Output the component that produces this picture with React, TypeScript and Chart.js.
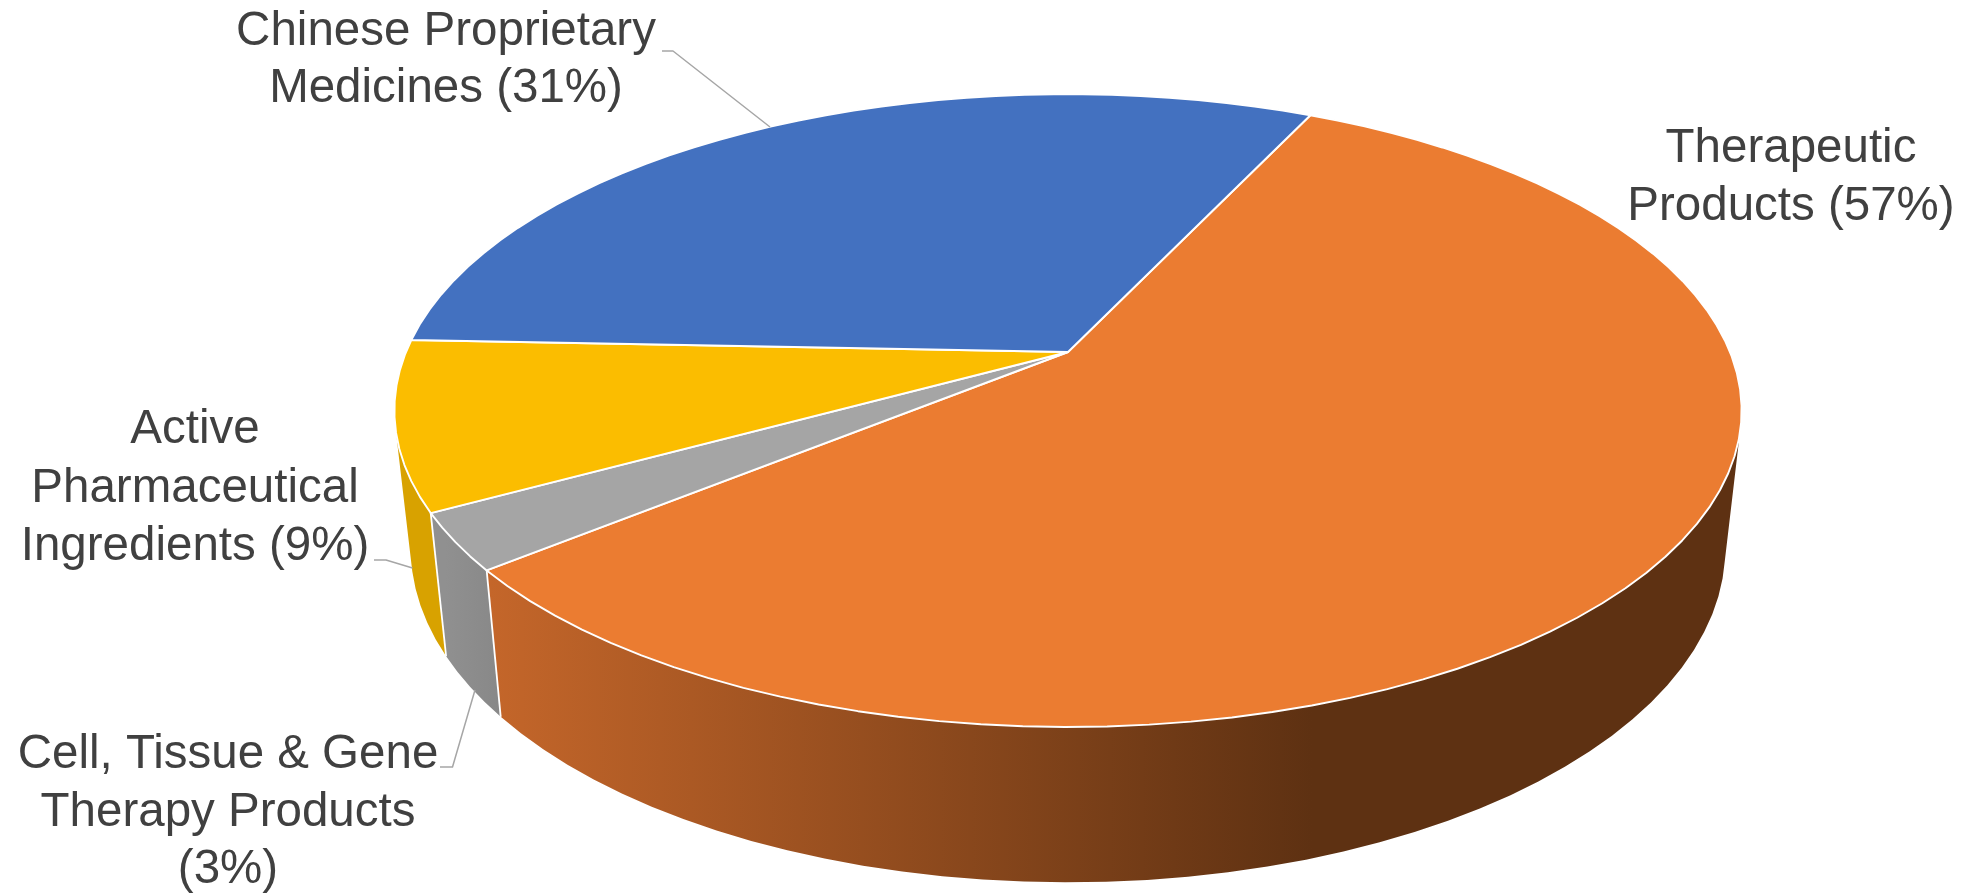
import React, { useEffect, useRef } from "react";
import { Chart, registerables } from "chart.js";

Chart.register(...registerables);

const categories = [
  "Therapeutic Products",
  "Cell, Tissue & Gene Therapy Products",
  "Active Pharmaceutical Ingredients",
  "Chinese Proprietary Medicines",
];
const shares = [57.1, 2.9, 8.6, 31.4];
const topColors = ["#EB7C31", "#A5A5A5", "#FBBD00", "#4371C0"];
const labelLines = [
  ["Therapeutic", "Products (57%)"],
  ["Cell, Tissue & Gene", "Therapy Products", "(3%)"],
  ["Active", "Pharmaceutical", "Ingredients (9%)"],
  ["Chinese Proprietary", "Medicines (31%)"],
];

// Projection of the pie's two discs (top face and bottom rim)
const TOP = { x: 1068, y: 352, a: 662, b: 305.6, p: 0.185 };
const BOTTOM = { x: 1068, y: 486, a: 646, b: 323, p: 0.185 };
const project = (d: typeof TOP, angle: number) => {
  const u = Math.cos(angle);
  const v = Math.sin(angle);
  const w = 1 - d.p * v;
  return [d.x + (d.a * u) / w, d.y + (d.b * v) / w];
};
const STEP = (3 * Math.PI) / 180;
const sweep = (start: number, end: number) => {
  const n = Math.max(1, Math.ceil((end - start) / STEP));
  const out: number[] = [];
  for (let i = 0; i <= n; i++) out.push(start + ((end - start) * i) / n);
  return out;
};

const labelLayout = [
  { x: 1791, y: 162, dy: 58, leader: null },
  { x: 228, y: 768, dy: 57.5, leader: [[440, 767], [452.5, 767], [475, 690]] },
  { x: 195, y: 443, dy: 58.5, leader: [[374, 560], [386, 560], [412.5, 568]] },
  { x: 446, y: 45, dy: 57, leader: [[662, 51], [673, 51], [770, 127]] },
];

const pie3d = {
  id: "pie3d",
  beforeDatasetDraw(chart: any, args: any) {
    const ctx: CanvasRenderingContext2D = chart.ctx;
    const arcs = args.meta.data;

    const orangeSide = ctx.createLinearGradient(490, 0, 1312, 0);
    orangeSide.addColorStop(0, "#C4662A");
    orangeSide.addColorStop(1, "#5E3112");
    const graySide = ctx.createLinearGradient(445, 0, 500, 0);
    graySide.addColorStop(0, "#909090");
    graySide.addColorStop(1, "#888888");
    const sideFills: (string | CanvasGradient)[] = ["", graySide, "#D8A200", "#2F4F87"];
    sideFills[0] = orangeSide;

    ctx.save();
    ctx.lineJoin = "round";

    // side wall: one path per slice, so the gradient shows no seams
    [3, 0, 1, 2].forEach((i) => {
      const el = arcs[i];
      const pts = sweep(el.startAngle, el.endAngle);
      ctx.beginPath();
      for (let k = 0; k < pts.length - 1; k++) {
        let q = [
          project(TOP, pts[k]),
          project(TOP, pts[k + 1]),
          project(BOTTOM, pts[k + 1]),
          project(BOTTOM, pts[k]),
        ];
        let area = 0;
        for (let m = 0; m < 4; m++) {
          const a = q[m];
          const b = q[(m + 1) % 4];
          area += a[0] * b[1] - b[0] * a[1];
        }
        if (area < 0) q = q.reverse();
        ctx.moveTo(q[0][0], q[0][1]);
        ctx.lineTo(q[1][0], q[1][1]);
        ctx.lineTo(q[2][0], q[2][1]);
        ctx.lineTo(q[3][0], q[3][1]);
        ctx.closePath();
      }
      ctx.fillStyle = sideFills[i];
      ctx.fill();
    });
    // white separators on the wall
    ctx.strokeStyle = "#FFFFFF";
    ctx.lineWidth = 1.8;
    arcs.forEach((el: any) => {
      const a = project(TOP, el.startAngle);
      const b = project(BOTTOM, el.startAngle);
      ctx.beginPath();
      ctx.moveTo(a[0], a[1]);
      ctx.lineTo(b[0], b[1]);
      ctx.stroke();
    });

    // top face
    arcs.forEach((el: any) => {
      ctx.beginPath();
      ctx.moveTo(TOP.x, TOP.y);
      for (const a of sweep(el.startAngle, el.endAngle)) {
        const p = project(TOP, a);
        ctx.lineTo(p[0], p[1]);
      }
      ctx.closePath();
      ctx.fillStyle = el.options.backgroundColor;
      ctx.fill();
      ctx.strokeStyle = "#FFFFFF";
      ctx.lineWidth = 1.9;
      ctx.stroke();
    });

    // labels and leader lines
    ctx.font = '47.5px "Liberation Sans", Arial, sans-serif';
    ctx.fillStyle = "#404040";
    ctx.textAlign = "center";
    ctx.textBaseline = "alphabetic";
    labelLines.forEach((lines, i) => {
      const l = labelLayout[i];
      lines.forEach((t, k) => ctx.fillText(t, l.x, l.y + k * l.dy));
      if (l.leader) {
        ctx.beginPath();
        l.leader.forEach((p, k) => (k ? ctx.lineTo(p[0], p[1]) : ctx.moveTo(p[0], p[1])));
        ctx.strokeStyle = "#A6A6A6";
        ctx.lineWidth = 1.5;
        ctx.stroke();
      }
    });
    ctx.restore();
    return false;
  },
};

export default function App() {
  const ref = useRef<HTMLCanvasElement>(null);
  useEffect(() => {
    document.body.style.margin = "0";
    const chart = new Chart(ref.current as HTMLCanvasElement, {
      type: "pie",
      data: {
        labels: categories,
        datasets: [{ data: shares, backgroundColor: topColors, borderColor: "#FFFFFF", borderWidth: 1.9 }],
      },
      options: {
        responsive: false,
        animation: false,
        devicePixelRatio: 1,
        rotation: 25.3,
        plugins: { legend: { display: false }, tooltip: { enabled: false } },
      },
      plugins: [pie3d],
    } as any);
    return () => chart.destroy();
  }, []);
  return (
    <canvas
      ref={ref}
      width={1967}
      height={896}
      style={{ display: "block", width: 1967, height: 896, background: "#FFFFFF" }}
    />
  );
}
